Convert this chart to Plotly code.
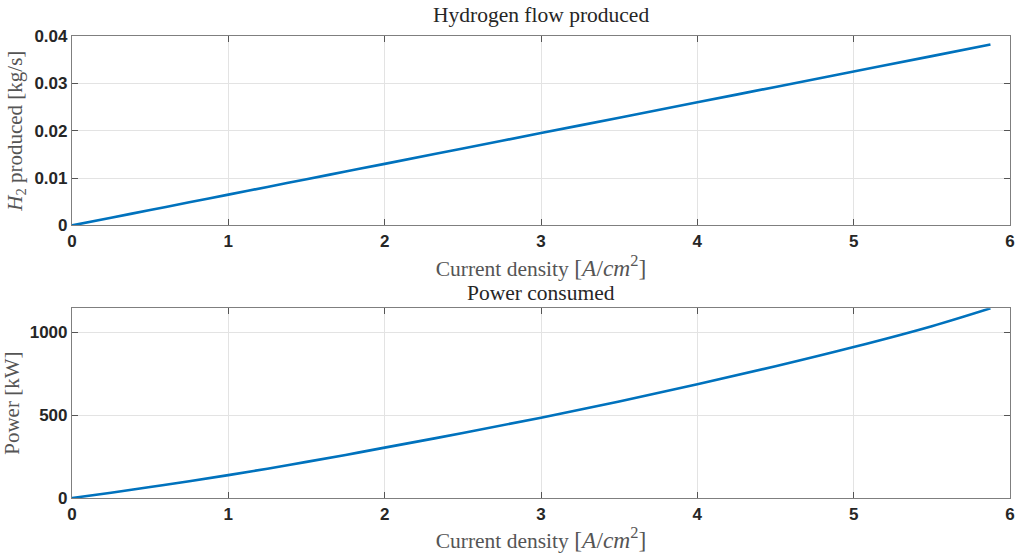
import plotly.graph_objects as go
from plotly.subplots import make_subplots

# Current density sample points [A/cm^2]
current_density = [0.0, 0.25, 0.5, 0.75, 1.0, 1.25, 1.5, 1.75, 2.0, 2.5, 3.0,
                   3.5, 4.0, 4.5, 5.0, 5.5, 5.875]

# Hydrogen mass flow produced [kg/s]
h2_flow = [0.0, 0.00163, 0.00325, 0.00488, 0.0065, 0.00813, 0.00975, 0.01138,
           0.0130, 0.01625, 0.0195, 0.02275, 0.0260, 0.02925, 0.0325,
           0.03575, 0.0382]

# Electrical power consumed [kW]
power_kw = [0, 32, 66, 101, 138, 177, 218, 260, 304, 392, 485, 583, 686,
            795, 911, 1037, 1145]

x_ticks = [0, 1, 2, 3, 4, 5, 6]
h2_ticks = [0, 0.01, 0.02, 0.03, 0.04]
power_ticks = [0, 500, 1000]

LINE = "#0072BD"
AXIS = "#7f7f7f"
TICK_TXT = "#262626"
LABEL = "#555555"
SERIF = "Liberation Serif"

fig = make_subplots(rows=2, cols=1, vertical_spacing=0.0)

fig.add_trace(go.Scatter(x=current_density, y=h2_flow, mode="lines",
                         line=dict(color=LINE, width=2.6, shape="spline"),
                         showlegend=False), row=1, col=1)
fig.add_trace(go.Scatter(x=current_density, y=power_kw, mode="lines",
                         line=dict(color=LINE, width=2.6, shape="spline"),
                         showlegend=False), row=2, col=1)

xlabel = ("Current density <span style='font-size:23.5px'>"
          "[<i>A</i>/<i>cm</i><sup>2</sup>]</span>")

common_x = dict(range=[0, 6], tickvals=x_ticks, showgrid=True,
                gridcolor="#e3e3e3", gridwidth=1, zeroline=False,
                showline=True, linecolor=AXIS, linewidth=1.2, mirror="ticks",
                ticks="inside", ticklen=6, tickcolor="#555555",
                automargin=False,
                tickfont=dict(family="Liberation Sans", size=17,
                              color=TICK_TXT, weight="bold"),
                title=dict(text=xlabel, font=dict(family=SERIF, size=21.5,
                                                  color=LABEL), standoff=8))
common_y = dict(showgrid=True, gridcolor="#e3e3e3", gridwidth=1,
                zeroline=False, showline=True, linecolor=AXIS, linewidth=1.2,
                mirror="ticks", ticks="inside", ticklen=6,
                tickcolor="#555555", automargin=False,
                tickfont=dict(family="Liberation Sans", size=17,
                              color=TICK_TXT, weight="bold"))

fig.update_xaxes(**common_x, domain=[0, 1], row=1, col=1)
fig.update_xaxes(**common_x, domain=[0, 1], row=2, col=1)
fig.update_yaxes(**common_y, domain=[0.590, 1.0], range=[0, 0.04],
                 tickvals=h2_ticks, ticktext=["0", "0.01", "0.02", "0.03", "0.04"],
                 title=dict(text="<i>H</i><sub>2</sub> produced [kg/s]",
                            font=dict(family=SERIF, size=21, color=LABEL),
                            standoff=6),
                 row=1, col=1)
fig.update_yaxes(**common_y, domain=[0.0, 0.4106], range=[0, 1145],
                 tickvals=power_ticks,
                 title=dict(text="Power [kW]",
                            font=dict(family=SERIF, size=21, color=LABEL),
                            standoff=14),
                 row=2, col=1)

fig.add_annotation(text="Hydrogen flow produced", xref="paper", yref="paper",
                   x=0.5, y=1.0, yshift=7, xanchor="center", yanchor="bottom",
                   showarrow=False,
                   font=dict(family=SERIF, size=21.5, color=TICK_TXT))
fig.add_annotation(text="Power consumed", xref="paper", yref="paper",
                   x=0.5, y=0.4106, yshift=1, xanchor="center", yanchor="bottom",
                   showarrow=False,
                   font=dict(family=SERIF, size=21.5, color=TICK_TXT))

fig.update_layout(width=1015, height=553,
                  margin=dict(l=72, r=5, t=36, b=55),
                  paper_bgcolor="white", plot_bgcolor="white")

fig.write_html("out.html")
